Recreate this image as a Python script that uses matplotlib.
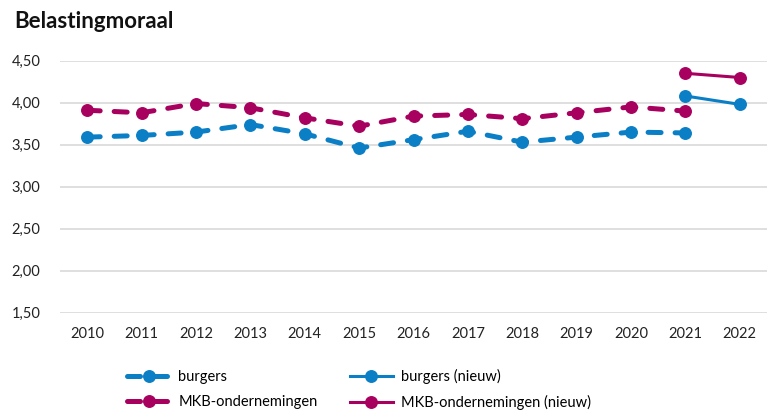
import matplotlib
matplotlib.use('Agg')
import matplotlib.pyplot as plt
from matplotlib.ticker import FuncFormatter

# Data
years = [2010, 2011, 2012, 2013, 2014, 2015, 2016, 2017, 2018, 2019, 2020, 2021]
burgers = [3.59, 3.61, 3.65, 3.74, 3.63, 3.46, 3.56, 3.66, 3.53, 3.59, 3.65, 3.64]
mkb = [3.91, 3.88, 3.99, 3.94, 3.82, 3.72, 3.84, 3.86, 3.81, 3.88, 3.95, 3.90]
years_new = [2021, 2022]
burgers_new = [4.08, 3.98]
mkb_new = [4.35, 4.30]
yticks = [1.5, 2.0, 2.5, 3.0, 3.5, 4.0, 4.5]

blue = '#0a7fc6'
purple = '#a8005f'

plt.rcParams['font.family'] = ['Lato', 'DejaVu Sans']

fig = plt.figure(figsize=(7.67, 4.13), dpi=100)
ax = fig.add_axes([60 / 767, 0.243, 1 - 60 / 767, 0.61])

dash = (0, (2.6, 2.8))
l1, = ax.plot(years, burgers, color=blue, lw=3.6, ls=dash, dash_capstyle='round',
              marker='o', ms=8.3, label='burgers')
l3, = ax.plot(years, mkb, color=purple, lw=3.6, ls=dash, dash_capstyle='round',
              marker='o', ms=8.3, label='MKB-ondernemingen')
l2, = ax.plot(years_new, burgers_new, color=blue, lw=2.2, marker='o', ms=8.3,
              label='burgers (nieuw)')
l4, = ax.plot(years_new, mkb_new, color=purple, lw=2.2, marker='o', ms=8.3,
              label='MKB-ondernemingen (nieuw)')

ax.set_xlim(2009.5, 2022.5)
ax.set_ylim(1.5, 4.5)
ax.set_xticks(years + [2022])
ax.set_yticks(yticks)
ax.yaxis.set_major_formatter(FuncFormatter(lambda v, p: f'{v:.2f}'.replace('.', ',')))
ax.grid(axis='y', color='#d9d9d9', lw=1.2)
ax.set_axisbelow(True)
for s in ax.spines.values():
    s.set_visible(False)
ax.tick_params(length=0, labelsize=10.5, colors='#222222')
ax.tick_params(axis='y', pad=14)
ax.tick_params(axis='x', pad=10)

fig.text(14 / 767, 1 - 22 / 413, 'Belastingmoraal', fontsize=16, fontweight='bold',
         va='center', ha='left', color='#111111')

fig.legend(handles=[l1, l3, l2, l4], ncol=2, frameon=False, fontsize=10.5,
           loc='upper left', bbox_to_anchor=(114 / 767, 1 - 356 / 413),
           handlelength=3.0, handletextpad=0.5, columnspacing=2.2, labelspacing=0.75)

fig.savefig('out.png', dpi=100)
